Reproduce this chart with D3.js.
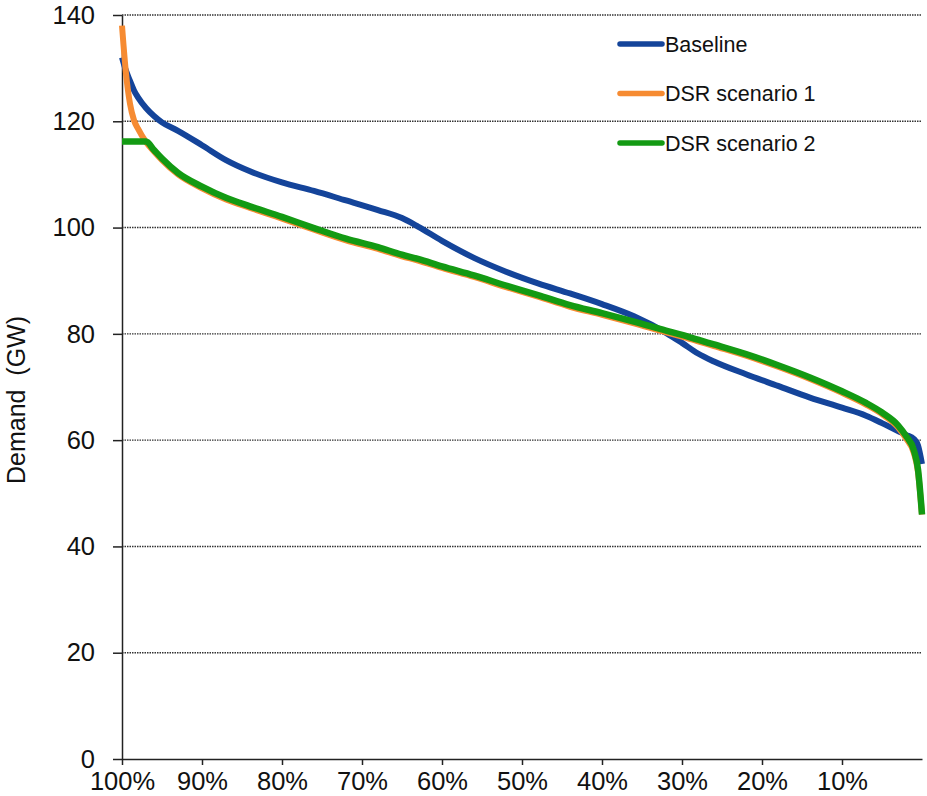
<!DOCTYPE html>
<html>
<head>
<meta charset="utf-8">
<script src="https://cdn.jsdelivr.net/npm/d3@7"></script>
<style>
  body { margin: 0; background: #fff; }
  text { font-family: "Liberation Sans", Arial, sans-serif; fill: #111; }
</style>
</head>
<body>
<div id="chart"></div>
<script>
// share of hours (%) at which each demand value is exceeded
var percents = [100, 99.5, 99, 98.5, 98, 97, 96, 95, 93, 90, 87, 84, 80, 76, 72, 68, 65, 63, 60,
                56, 52, 48, 44, 40, 36, 32, 30, 28, 26, 22, 18, 14, 10, 7, 5, 3, 2, 1, 0.5, 0];

var baseline = [132, 129.5, 127.6, 125.8, 124.5, 122.5, 121, 119.8, 118.2, 115.5, 112.7, 110.6, 108.5,
                106.9, 105.1, 103.3, 101.8, 100.2, 97.5, 94.3, 91.7, 89.5, 87.6, 85.6, 83.3, 80.2,
                78.3, 76.3, 74.8, 72.4, 70.2, 68.0, 66.1, 64.6, 63.2, 61.7, 61.0, 60.2, 59.0, 55.5];

var dsr1 = [138, 129, 123.3, 120.2, 118.6, 116.1, 114.3, 112.7, 110.0, 107.4, 105.3, 103.7, 101.7,
            99.6, 97.6, 96.0, 94.6, 93.8, 92.4, 90.7, 88.8, 87.0, 85.1, 83.6, 82.0, 80.3,
            79.5, 78.6, 77.7, 75.9, 73.8, 71.5, 68.9, 66.7, 64.9, 62.4, 60.3, 57.5, 54.0, 46];

var dsr2 = [116.2, 116.2, 116.2, 116.2, 116.2, 116.2, 114.6, 113.0, 110.3, 107.7, 105.6, 104.0, 102.0,
            99.9, 97.9, 96.3, 94.9, 94.1, 92.7, 91.0, 89.1, 87.3, 85.4, 83.9, 82.3, 80.6,
            79.8, 78.9, 78.0, 76.2, 74.1, 71.8, 69.2, 67.0, 65.2, 62.8, 60.8, 58.0, 54.5, 46];

var seriesNames = ['Baseline', 'DSR scenario 1', 'DSR scenario 2'];
var seriesColors = ['#14449a', '#f68b32', '#139a13'];
var xTicks = [1, 0.9, 0.8, 0.7, 0.6, 0.5, 0.4, 0.3, 0.2, 0.1];
var yTicks = [0, 20, 40, 60, 80, 100, 120, 140];

var width = 927, height = 796;
var margin = {top: 15, right: 5, bottom: 37, left: 122};

var svg = d3.select('#chart').append('svg')
    .attr('width', width)
    .attr('height', height);

var x = d3.scaleLinear().domain([1, 0]).range([margin.left, width - margin.right]);
var y = d3.scaleLinear().domain([0, 140]).range([height - margin.bottom, margin.top]);

// dotted gridlines
svg.append('g').selectAll('line')
    .data(yTicks.filter(function(d) { return d > 0; }))
    .enter().append('line')
    .attr('x1', x(1)).attr('x2', x(0))
    .attr('y1', function(d) { return y(d); })
    .attr('y2', function(d) { return y(d); })
    .attr('stroke', '#333')
    .attr('stroke-width', 1.4)
    .attr('stroke-dasharray', '1.5,1');

// axes
var xAxis = svg.append('g')
    .attr('transform', 'translate(0,' + y(0) + ')')
    .call(d3.axisBottom(x).tickValues(xTicks).tickFormat(d3.format('.0%'))
        .tickSize(6).tickSizeOuter(0).tickPadding(7));

var yAxis = svg.append('g')
    .attr('transform', 'translate(' + x(1) + ',0)')
    .call(d3.axisLeft(y).tickValues(yTicks).tickSize(9).tickSizeOuter(0).tickPadding(18));

[xAxis, yAxis].forEach(function(g) {
    g.select('.domain').attr('stroke', '#222').attr('stroke-width', 1.5);
    g.selectAll('.tick line').attr('stroke', '#222').attr('stroke-width', 1.5);
    g.selectAll('text').style('font-size', '25.5px').attr('fill', '#111')
        .style('font-family', '"Liberation Sans", Arial, sans-serif');
});

// y title
svg.append('text')
    .attr('transform', 'translate(25,400) rotate(-90)')
    .attr('text-anchor', 'middle')
    .attr('xml:space', 'preserve')
    .style('font-size', '25px')
    .text('Demand  (GW)');

// series lines
var line = d3.line()
    .x(function(d) { return x(d[0] / 100); })
    .y(function(d) { return y(d[1]); })
    .curve(d3.curveMonotoneX);

[baseline, dsr1, dsr2].forEach(function(values, i) {
    var pts = percents.map(function(p, j) { return [p, values[j]]; });
    svg.append('path')
        .datum(pts)
        .attr('d', line)
        .attr('fill', 'none')
        .attr('stroke', seriesColors[i])
        .attr('stroke-width', i === 2 ? 6.5 : 6)
        .attr('stroke-linejoin', 'round');
});

// legend
var legend = svg.append('g').attr('transform', 'translate(620,44)');
seriesNames.forEach(function(name, i) {
    var row = legend.append('g').attr('transform', 'translate(0,' + (i * 49.5) + ')');
    row.append('line')
        .attr('x1', 0).attr('x2', 42)
        .attr('stroke', seriesColors[i])
        .attr('stroke-width', 5.5)
        .attr('stroke-linecap', 'round');
    row.append('text')
        .attr('x', 45)
        .attr('dy', '0.35em')
        .style('font-size', '21.5px')
        .text(name);
});
</script>
</body>
</html>
